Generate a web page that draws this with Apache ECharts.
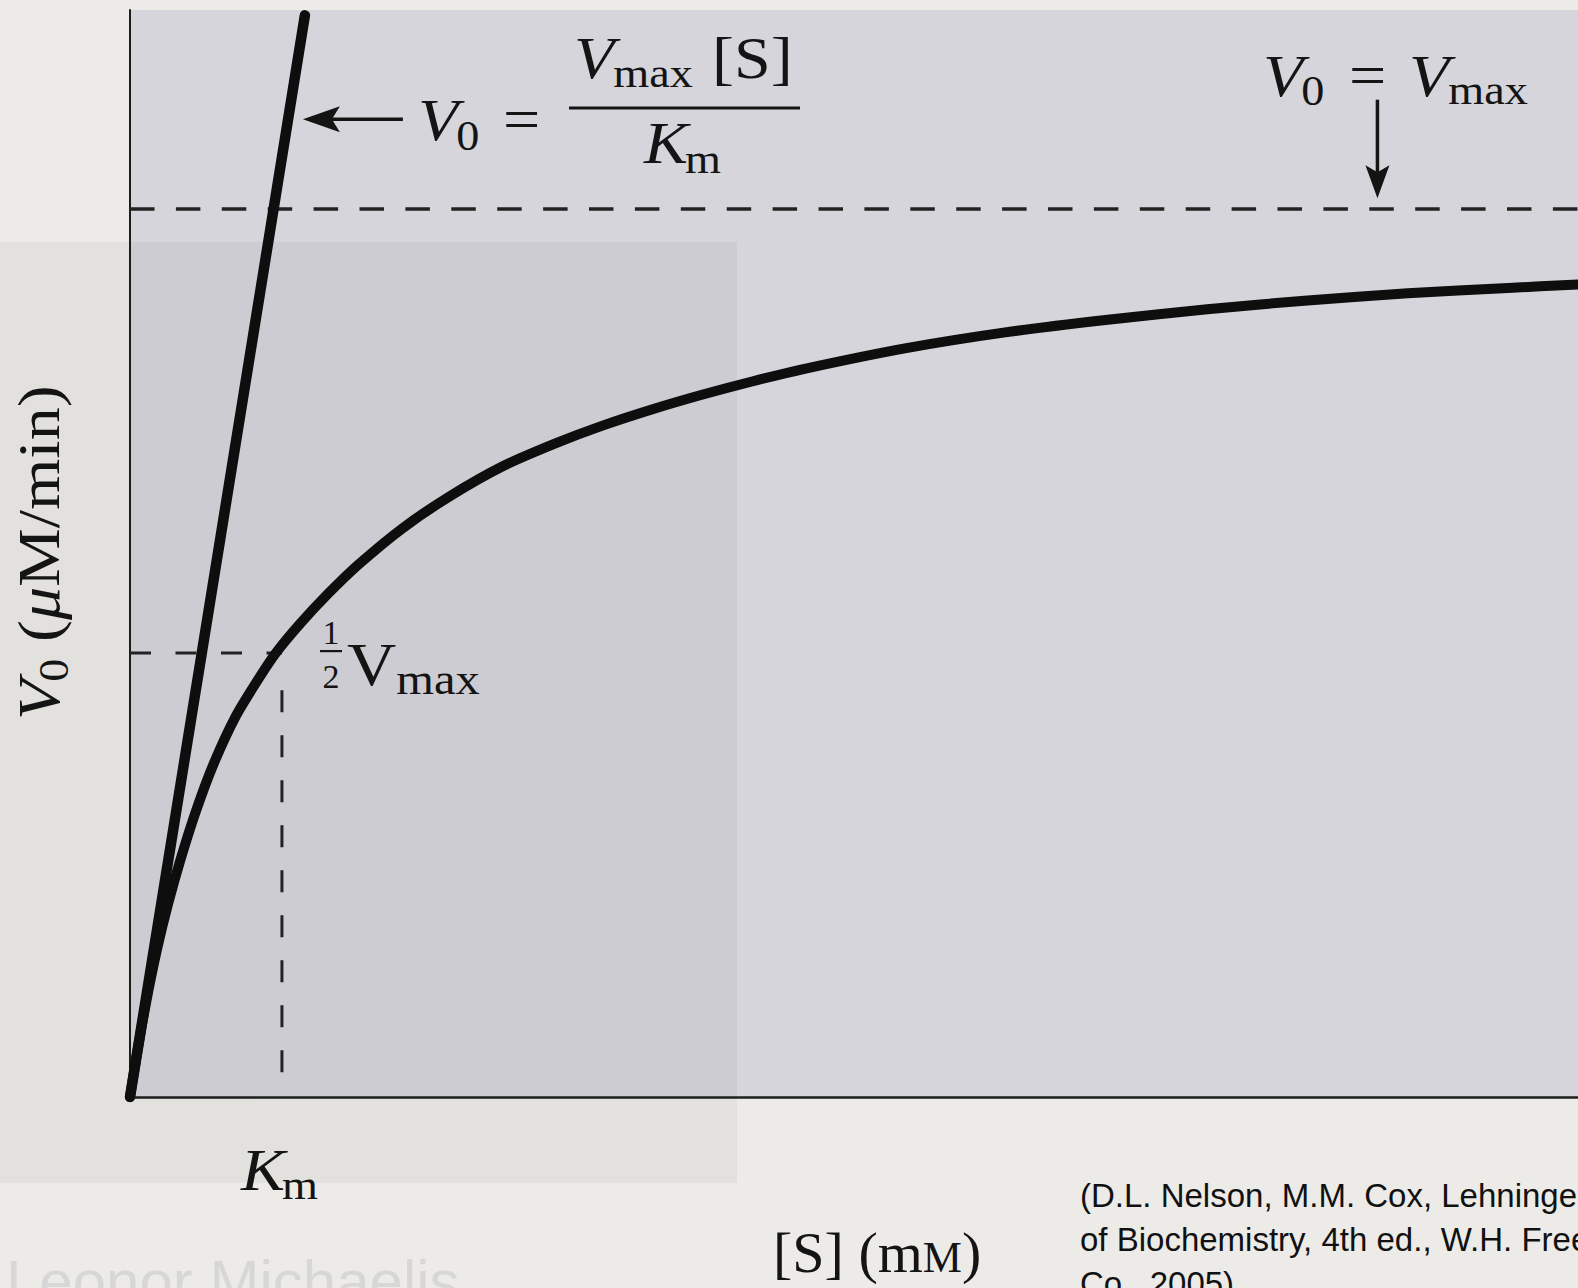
<!DOCTYPE html>
<html><head><meta charset="utf-8">
<script src="https://cdn.jsdelivr.net/npm/echarts@6/dist/echarts.min.js"></script>
<style>html,body{margin:0;padding:0;background:#ecebe7;}#c{width:1578px;height:1288px;}</style>
</head><body><div id="c"></div>
<script>
// ---------------- data ([S] in units of Km, V0 in % of Vmax) ----------------
const substrate = [0, 0.03, 0.07, 0.12, 0.18, 0.25, 0.33, 0.43, 0.55, 0.7, 0.85, 0.96, 1.12, 1.3, 1.5, 1.79, 2.1, 2.45, 2.8, 3.11, 3.45, 3.77, 4.1, 4.44, 5.1, 5.76, 6.42, 7.09, 7.75, 8.41, 9.07, 9.53];
const velocity  = [0, 3.2, 7.3, 11.9, 16.8, 21.7, 26.6, 32.0, 37.5, 43.0, 47.2, 50.0, 53.3, 56.6, 59.9, 64.0, 67.6, 71.0, 73.6, 75.6, 77.5, 79.1, 80.6, 82.0, 84.3, 86.1, 87.5, 88.7, 89.7, 90.5, 91.1, 91.5];
const tangentS  = [0, 1.151];
const tangentV  = [0, 121.8];
const VMAX = 100, HALF = 50, KM = 1;
const X_MAX = 9.53, Y_MAX = 122.4;
const kmGuideV = [45.8, 2.6];          // extent of the dashed Km drop line
const arrowLeft = {v: 110.1, tipS: 1.138, tailS: 1.796};
const arrowDown = {s: 8.21, tipV: 101.2, tailV: 112.3};

// ---------------- helpers ----------------
const SERIF = '"Liberation Serif", "Times New Roman", serif';
const SANS = '"Liberation Sans", Arial, sans-serif';
const SX = 1.1;
const INK = '#141414';
const cv = document.createElement('canvas').getContext('2d');
function fontStr(p){ return (p.i ? 'italic ' : '') + p.s + 'px ' + (p.f || SERIF); }
function measure(p){ cv.font = fontStr(p); return cv.measureText(p.t).width; }
function run(x0, base, pieces, sx){
  sx = sx || SX; let x = x0; const out = [];
  pieces.forEach(p => {
    x += (p.dx || 0);
    const k = (p.f === SANS) ? 0.3465 : 0.3375;
    out.push({type:'text', z: 20, x: x, y: base + (p.dy || 0) - k * p.s, scaleX: sx,
      style:{text: p.t, font: fontStr(p), fill: p.c || INK, align:'left', verticalAlign:'middle'}});
    x += measure(p) * sx;
  });
  return out;
}
function pairs(a, b){ return a.map((v, i) => [v, b[i]]); }

const chart = echarts.init(document.getElementById('c'), null, {renderer:'svg'});
const option = {
  backgroundColor: '#ecebe7',
  animation: false,
  grid: {left:130, right:0, top:10, bottom:191, show:true, backgroundColor:'#d6d5db', borderWidth:0},
  xAxis: {type:'value', min:0, max:X_MAX, axisLine:{show:true, onZero:false, lineStyle:{color:'#1c1f1c', width:2.5}},
    axisTick:{show:false}, axisLabel:{show:false}, splitLine:{show:false}},
  yAxis: {type:'value', min:0, max:Y_MAX, axisLine:{show:true, onZero:false, lineStyle:{color:'#1c1c1c', width:2}},
    axisTick:{show:false}, axisLabel:{show:false}, splitLine:{show:false}},
  series: [
    {type:'line', name:'Vmax', data:[[0, VMAX],[X_MAX, VMAX]], showSymbol:false, silent:true,
      lineStyle:{color:'#222', width:3.5, type:[24.5, 21.4]}},
    {type:'line', name:'half', data:[[0, HALF],[KM, HALF]], showSymbol:false, silent:true,
      lineStyle:{color:'#222', width:3, type:[21, 24.5]}},
    {type:'line', name:'Km', data:[[KM, kmGuideV[0]],[KM, kmGuideV[1]]], showSymbol:false, silent:true,
      lineStyle:{color:'#222', width:3, type:[22, 23]}},
    {type:'line', name:'tangent', data: pairs(tangentS, tangentV), showSymbol:false,
      lineStyle:{color:'#0e0e0e', width:10.5, cap:'round'}},
    {type:'line', name:'V0', data: pairs(substrate, velocity), showSymbol:false, smooth:0.25,
      lineStyle:{color:'#0e0e0e', width:10, cap:'round', join:'round'}}
  ]
};
chart.setOption(option);

const P = (s, v) => chart.convertToPixel({gridIndex:0}, [s, v]);
const g = [];
// scan shading of the facing page
g.push({type:'rect', z:1, shape:{x:0, y:242, width:737, height:941}, style:{fill:'rgba(30,30,55,0.05)'}});
// ghost text from the page underneath
g.push(...run(6, 1302, [{t:'Leonor Michaelis', s:60, f:SANS, c:'rgba(120,120,135,0.17)'}], 1));

// arrows
(function(){
  const a = P(arrowLeft.tipS, arrowLeft.v), b = P(arrowLeft.tailS, arrowLeft.v);
  g.push({type:'line', z:15, shape:{x1:a[0]+28, y1:a[1], x2:b[0], y2:b[1]}, style:{stroke:INK, lineWidth:3.5}});
  g.push({type:'polygon', z:15, shape:{points:[[a[0],a[1]],[a[0]+37,a[1]-13],[a[0]+29,a[1]],[a[0]+37,a[1]+13]]}, style:{fill:INK}});
  const c = P(arrowDown.s, arrowDown.tipV), d = P(arrowDown.s, arrowDown.tailV);
  g.push({type:'line', z:15, shape:{x1:d[0], y1:d[1], x2:c[0], y2:c[1]-26}, style:{stroke:INK, lineWidth:3.5}});
  g.push({type:'polygon', z:15, shape:{points:[[c[0],c[1]],[c[0]-12,c[1]-33],[c[0],c[1]-26],[c[0]+12,c[1]-33]]}, style:{fill:INK}});
})();

// V0 = Vmax[S]/Km
g.push(...run(418, 140, [{t:'V', s:60, i:1}, {t:'0', s:42, dy:10, dx:-2}]));
g.push(...run(503, 139, [{t:'=', s:60}]));
g.push({type:'rect', z:20, shape:{x:569, y:106.5, width:231, height:3}, style:{fill:INK}});
g.push(...run(574, 78, [{t:'V', s:60, i:1}, {t:'max', s:42, dy:9, dx:-1}]));
g.push(...run(712, 78, [{t:'[S]', s:60}]));
g.push(...run(644, 163, [{t:'K', s:60, i:1}, {t:'m', s:42, dy:10, dx:-3}]));

// V0 = Vmax
g.push(...run(1263, 96, [{t:'V', s:60, i:1}, {t:'0', s:42, dy:9, dx:-2}]));
g.push(...run(1349, 95, [{t:'=', s:60}]));
g.push(...run(1409, 96, [{t:'V', s:60, i:1}, {t:'max', s:42, dy:8, dx:-1}]));

// 1/2 Vmax
g.push({type:'text', z:20, x:331, y:644 - 0.3375*34, style:{text:'1', font:'34px '+SERIF, fill:INK, align:'center', verticalAlign:'middle'}});
g.push({type:'rect', z:20, shape:{x:320, y:650, width:22, height:2.2}, style:{fill:INK}});
g.push({type:'text', z:20, x:331, y:688 - 0.3375*34, style:{text:'2', font:'34px '+SERIF, fill:INK, align:'center', verticalAlign:'middle'}});
g.push(...run(347, 685, [{t:'V', s:62}, {t:'max', s:44, dy:9, dx:0}]));

// Km under the axis
g.push(...run(241, 1190, [{t:'K', s:60, i:1}, {t:'m', s:42, dy:9, dx:-3}]));

// x-axis title
g.push(...run(773, 1272, [{t:'[S] (m', s:58}, {t:'M', s:44}, {t:')', s:58}], 1.0));

// y-axis title (rotated)
g.push({type:'group', x:59, y:720, rotation:Math.PI/2, children:
  run(0, 0, [{t:'V', s:60, i:1}, {t:'0', s:42, dy:9, dx:-2}, {t:' (', s:60}, {t:'\u03bc', s:60, i:1}, {t:'M/min)', s:60}])});

// citation
const cite = ['(D.L. Nelson, M.M. Cox, Lehninger Principles', 'of Biochemistry, 4th ed., W.H. Freeman and', 'Co., 2005)'];
cite.forEach((line, i) => g.push(...run(1080, 1207 + i*44, [{t:line, s:33, f:SANS, c:'#111'}], 1)));

chart.setOption({graphic:{elements:g}});
</script></body></html>
